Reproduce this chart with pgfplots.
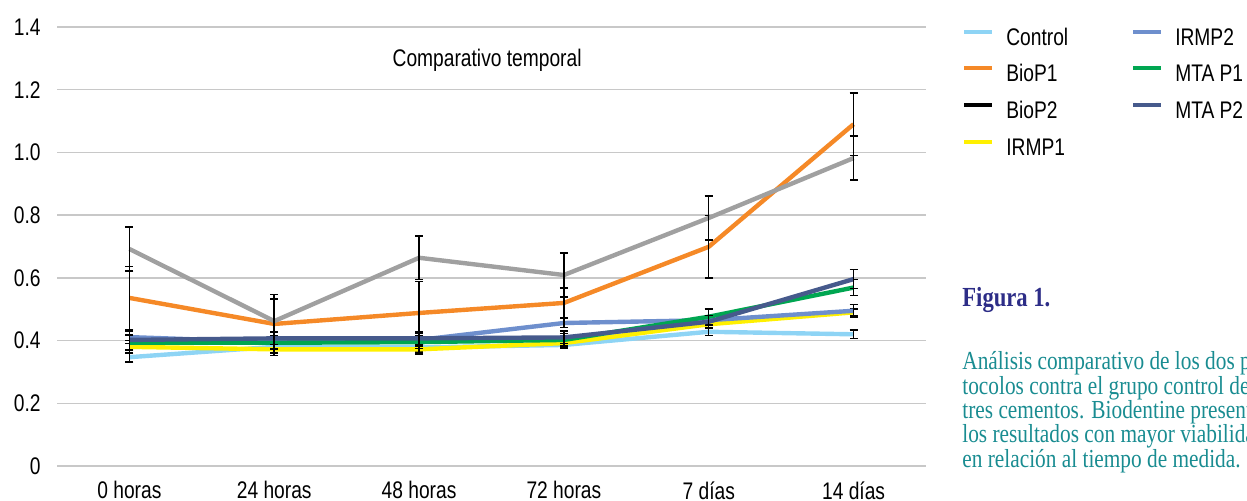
\documentclass[border=0pt]{standalone}
\usepackage{fontspec}
\setmainfont{Liberation Sans}[FakeStretch=0.8]
\newfontfamily\capfont{Liberation Serif}[FakeStretch=0.82]
\usepackage{pgfplots}
\usepackage{pgfplotstable}
\pgfplotsset{compat=1.18}

\definecolor{ctrlc}{RGB}{142,212,245}
\definecolor{bioA}{RGB}{245,137,39}
\definecolor{bioB}{RGB}{160,160,160}
\definecolor{irmA}{RGB}{255,240,0}
\definecolor{irmB}{RGB}{110,143,205}
\definecolor{mtaA}{RGB}{0,166,81}
\definecolor{mtaB}{RGB}{70,90,140}
\definecolor{navy}{RGB}{45,45,135}
\definecolor{tealc}{RGB}{25,140,145}
\definecolor{gridgray}{RGB}{200,200,200}

% media y error por grupo (0 h, 24 h, 48 h, 72 h, 7 d, 14 d)
\pgfplotstableread{
x  c     ce    b1    b1e   b2    b2e   i1    i1e   i2    i2e   m1    m1e   m2    m2e
0  0.347 0.015 0.536 0.100 0.692 0.070 0.380 0.020 0.411 0.020 0.393 0.025 0.402 0.030
1  0.380 0.020 0.453 0.080 0.462 0.085 0.372 0.020 0.395 0.020 0.393 0.020 0.407 0.020
2  0.378 0.015 0.488 0.100 0.664 0.070 0.372 0.015 0.402 0.020 0.395 0.020 0.407 0.020
3  0.386 0.010 0.520 0.047 0.609 0.070 0.392 0.015 0.456 0.015 0.402 0.020 0.410 0.020
4  0.428 0.012 0.699 0.100 0.791 0.070 0.452 0.010 0.465 0.015 0.476 0.025 0.460 0.020
5  0.420 0.013 1.090 0.100 0.982 0.070 0.490 0.010 0.495 0.020 0.569 0.025 0.596 0.030
}\datatable

\pgfplotsset{
  ebar/.style={
    error bars/y dir=both,
    error bars/y explicit,
    error bars/error bar style={black, line width=0.75pt},
    error bars/error mark options={black, rotate=90, mark size=2pt, line width=0.75pt},
  },
  serie/.style={#1, line width=2.2pt, line join=round, forget plot, mark=none},
}

\begin{document}
\begin{tikzpicture}
\useasboundingbox (0,0) rectangle (623.5pt,250.5pt);
\begin{axis}[
  at={(28.5pt,17.5pt)}, anchor=south west,
  scale only axis, width=434.5pt, height=219.5pt,
  xmin=-0.5, xmax=5.5, ymin=0, ymax=1.4,
  xtick={0,1,2,3,4,5},
  xticklabels={0 horas,24 horas,48 horas,72 horas,7 días,14 días},
  ytick={0,0.2,0.4,0.6,0.8,1.0,1.2,1.4},
  yticklabels={0,0.2,0.4,0.6,0.8,1.0,1.2,1.4},
  axis line style={draw=none},
  major tick length=0pt,
  ymajorgrids,
  major grid style={draw=gridgray, line width=0.75pt},
  tick label style={font=\fontsize{12}{14}\selectfont, inner sep=0pt},
  yticklabel style={anchor=east, xshift=-8pt},
  xticklabel style={anchor=north, yshift=-7.5pt},
  clip=false,
  legend columns=2,
  legend cell align=left,
  legend image code/.code={\draw[#1, line width=2pt] (0pt,3.5pt) -- (14pt,3.5pt);},
  legend style={at={(1.0414,1.0)}, anchor=north west, draw=none, fill=none,
    inner sep=0pt, font=\fontsize{12}{14}\selectfont, row sep=6.8pt,
    nodes={inner sep=0pt, text height=9pt, text depth=2.5pt},
    /tikz/every odd column/.append style={column sep=6pt},
    /tikz/column 2/.append style={column sep=31.5pt}},
]
\addplot[serie=ctrlc, ebar] table[x=x, y=c, y error=ce] {\datatable};
\addplot[serie=bioA, ebar] table[x=x, y=b1, y error=b1e] {\datatable};
\addplot[serie=bioB, ebar] table[x=x, y=b2, y error=b2e] {\datatable};
\addplot[serie=irmA, ebar] table[x=x, y=i1, y error=i1e] {\datatable};
\addplot[serie=irmB, ebar] table[x=x, y=i2, y error=i2e] {\datatable};
\addplot[serie=mtaA, ebar] table[x=x, y=m1, y error=m1e] {\datatable};
\addplot[serie=mtaB, ebar] table[x=x, y=m2, y error=m2e] {\datatable};

% leyenda en el orden del original (por filas)
\addlegendimage{ctrlc}\addlegendentry{Control}
\addlegendimage{irmB}\addlegendentry{IRMP2}
\addlegendimage{bioA}\addlegendentry{BioP1}
\addlegendimage{mtaA}\addlegendentry{MTA P1}
\addlegendimage{black}\addlegendentry{BioP2}
\addlegendimage{mtaB}\addlegendentry{MTA P2}
\addlegendimage{irmA}\addlegendentry{IRMP1}

\node[font=\fontsize{12}{14}\selectfont] at (rel axis cs:0.495,0.925) {Comparativo temporal};
\end{axis}

\node[anchor=base west, inner sep=0pt, text=navy, font=\capfont\bfseries\fontsize{13.8}{16}\selectfont]
  at (481pt,97pt) {Figura 1.};
\begin{scope}[every node/.style={anchor=base west, inner sep=0pt, text=tealc,
    font=\capfont\fontsize{13}{14}\selectfont}]
\node at (481pt,65.5pt) {Análisis comparativo de los dos pro-};
\node at (481pt,53pt) {tocolos contra el grupo control de los};
\node at (481pt,41pt) {tres cementos. Biodentine presenta};
\node at (481pt,29pt) {los resultados con mayor viabilidad};
\node at (481pt,16.5pt) {en relación al tiempo de medida.};
\end{scope}
\end{tikzpicture}
\end{document}
